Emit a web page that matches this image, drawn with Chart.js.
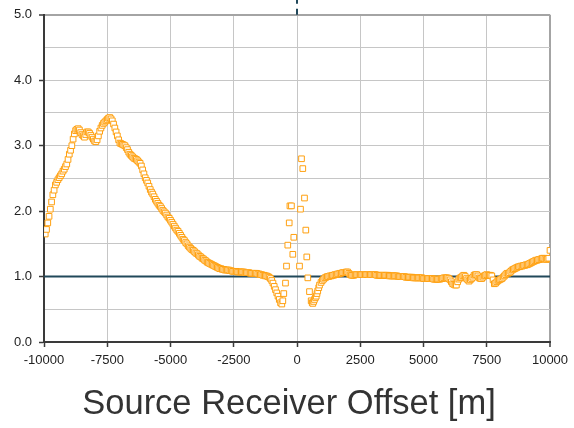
<!DOCTYPE html>
<html>
<head>
<meta charset="utf-8">
<script src="https://cdn.jsdelivr.net/npm/chart.js@4/dist/chart.umd.min.js"></script>
<style>
  html, body { margin: 0; padding: 0; background: #ffffff; }
  #wrap { width: 574px; height: 428px; }
</style>
</head>
<body>
<div id="wrap"><canvas id="c" width="574" height="428"></canvas></div>
<script>
// Negative offsets, far side
const westOffsets = [
  -10000, -9950, -9900, -9850, -9800, -9750, -9700, -9650, -9600, -9550,
  -9500, -9450, -9400, -9350, -9300, -9250, -9200, -9150, -9100, -9050,
  -9000, -8950, -8900, -8850, -8800, -8750, -8700, -8650, -8600, -8550,
  -8500, -8450, -8400, -8350, -8300, -8250, -8200, -8150, -8100, -8050,
  -8000, -7950, -7900, -7850, -7800, -7750, -7700, -7650, -7600, -7550,
  -7500, -7450, -7400, -7350, -7300, -7250, -7200, -7150, -7100, -7050,
  -7000, -6950, -6900, -6850, -6800, -6750, -6700, -6650, -6600, -6550,
  -6500, -6450, -6400, -6350, -6300, -6250, -6200, -6150, -6100, -6050,
  -6000, -5950, -5900, -5850, -5800, -5750, -5700, -5650, -5600, -5550,
  -5500, -5450, -5400, -5350, -5300, -5250, -5200, -5150, -5100, -5050,
  -5000, -4950, -4900, -4850, -4800, -4750, -4700, -4650, -4600, -4550,
  -4500, -4450, -4400, -4350, -4300, -4250, -4200, -4150, -4100, -4050,
  -4000
];
const westRatios = [
  1.70, 1.65, 1.72, 1.82, 1.92, 2.03, 2.14, 2.25, 2.32, 2.40,
  2.44, 2.48, 2.51, 2.54, 2.57, 2.61, 2.64, 2.68, 2.72, 2.79,
  2.87, 2.93, 3.00, 3.10, 3.18, 3.23, 3.25, 3.26, 3.24, 3.20,
  3.17, 3.15, 3.13, 3.17, 3.21, 3.21, 3.19, 3.16, 3.13, 3.10,
  3.07, 3.06, 3.09, 3.15, 3.22, 3.27, 3.31, 3.34, 3.36, 3.38,
  3.40, 3.42, 3.43, 3.41, 3.38, 3.33, 3.27, 3.21, 3.15, 3.09,
  3.04, 3.03, 3.02, 3.01, 3.00, 2.97, 2.94, 2.90, 2.87, 2.85,
  2.83, 2.81, 2.80, 2.79, 2.77, 2.75, 2.73, 2.69, 2.63, 2.57,
  2.51, 2.47, 2.43, 2.38, 2.33, 2.29, 2.26, 2.22, 2.18, 2.15,
  2.12, 2.09, 2.07, 2.04, 2.01, 1.99, 1.97, 1.94, 1.91, 1.89,
  1.86, 1.83, 1.80, 1.77, 1.74, 1.71, 1.69, 1.66, 1.63, 1.60,
  1.57, 1.55, 1.52, 1.50, 1.47, 1.45, 1.43, 1.41, 1.40, 1.38,
  1.36
];

// Negative offsets approaching the source
const nearWestOffsets = [
  -3950, -3900, -3850, -3800, -3750, -3700, -3650, -3600, -3550, -3500,
  -3450, -3400, -3350, -3300, -3250, -3200, -3150, -3100, -3050, -3000,
  -2950, -2900, -2850, -2800, -2750, -2700, -2650, -2600, -2550, -2500,
  -2450, -2400, -2350, -2300, -2250, -2200, -2150, -2100, -2050, -2000,
  -1950, -1900, -1850, -1800, -1750, -1700, -1650, -1600, -1550, -1500,
  -1450, -1400, -1350, -1300, -1250, -1200, -1150, -1100, -1050, -1000,
  -950, -900, -850, -800, -750, -700, -650, -600, -560
];
const nearWestRatios = [
  1.35, 1.33, 1.31, 1.30, 1.28, 1.27, 1.25, 1.24, 1.22, 1.21,
  1.20, 1.19, 1.18, 1.17, 1.16, 1.15, 1.14, 1.13, 1.12, 1.12,
  1.11, 1.11, 1.10, 1.10, 1.10, 1.10, 1.09, 1.09, 1.08, 1.08,
  1.08, 1.08, 1.07, 1.07, 1.07, 1.07, 1.07, 1.07, 1.06, 1.06,
  1.06, 1.06, 1.05, 1.05, 1.05, 1.05, 1.05, 1.05, 1.04, 1.04,
  1.03, 1.03, 1.02, 1.02, 1.01, 1.01, 1.00, 0.99, 0.97, 0.94,
  0.90, 0.85, 0.80, 0.75, 0.70, 0.65, 0.60, 0.58, 0.63
];

// Scattered samples around zero offset
const centreOffsets = [
  -522, -455, -415, -364, -308, -280, -220, -166, -126,
  99, 138, 178, 229, 296, 348, 387, 427, 494
];
const centreRatios = [
  0.74, 0.90, 1.16, 1.48, 1.82, 2.08, 2.08, 1.34, 1.60,
  1.16, 2.03, 2.80, 2.65, 2.20, 1.71, 1.30, 0.98, 0.77
];

// Positive offsets
const eastOffsets = [
  560, 600, 625, 660, 690, 730, 760, 790, 820, 860,
  890, 950, 1000, 1050, 1100, 1150,
  1200, 1250, 1300, 1350, 1400, 1450, 1500, 1550, 1600, 1650,
  1700, 1750, 1800, 1850, 1900, 1950, 2000, 2050, 2100, 2150,
  2200, 2250, 2300, 2350, 2400, 2450, 2500, 2550, 2600, 2650,
  2700, 2750, 2800, 2850, 2900, 2950, 3000, 3050, 3100, 3150,
  3200, 3250, 3300, 3350, 3400, 3450, 3500, 3550, 3600, 3650,
  3700, 3750, 3800, 3850, 3900, 3950, 4000, 4050, 4100, 4150,
  4200, 4250, 4300, 4350, 4400, 4450, 4500, 4550, 4600, 4650,
  4700, 4750, 4800, 4850, 4900, 4950, 5000, 5050, 5100, 5150,
  5200, 5250, 5300, 5350, 5400, 5450
];
const eastRatios = [
  0.63, 0.60, 0.59, 0.62, 0.65, 0.68, 0.70, 0.74, 0.78, 0.83,
  0.87, 0.91, 0.94, 0.96, 0.98, 0.99,
  1.00, 1.00, 1.01, 1.01, 1.02, 1.02, 1.03, 1.03, 1.04, 1.04,
  1.05, 1.05, 1.06, 1.06, 1.06, 1.07, 1.07, 1.05, 1.03, 1.02,
  1.02, 1.02, 1.03, 1.03, 1.03, 1.03, 1.03, 1.03, 1.03, 1.03,
  1.03, 1.03, 1.03, 1.03, 1.03, 1.03, 1.03, 1.03, 1.03, 1.02,
  1.02, 1.02, 1.02, 1.02, 1.02, 1.02, 1.02, 1.02, 1.02, 1.01,
  1.01, 1.01, 1.01, 1.01, 1.01, 1.01, 1.00, 1.00, 1.00, 1.00,
  1.00, 1.00, 0.99, 0.99, 0.99, 0.99, 0.99, 0.99, 0.98, 0.98,
  0.98, 0.98, 0.98, 0.98, 0.98, 0.98, 0.97, 0.97, 0.97, 0.97,
  0.97, 0.97, 0.97, 0.97, 0.96, 0.96
];

// Positive offsets, far side
const farEastOffsets = [
  5500, 5550, 5600, 5650, 5700, 5750, 5800, 5850, 5900, 5950,
  6000, 6050, 6100, 6150, 6200, 6250, 6300, 6350, 6400, 6450,
  6500, 6550, 6600, 6650, 6700, 6750, 6800, 6850, 6900, 6950,
  7000, 7050, 7100, 7150, 7200, 7250, 7300, 7350, 7400, 7450,
  7500, 7550, 7600, 7650, 7700, 7750, 7800, 7850, 7900, 7950,
  8000, 8050, 8100, 8150, 8200, 8250, 8300, 8350, 8400, 8450,
  8500, 8550, 8600, 8650, 8700, 8750, 8800, 8850, 8900, 8950,
  9000, 9050, 9100, 9150, 9200, 9250, 9300, 9350, 9400, 9450,
  9500, 9550, 9600, 9650, 9700, 9750, 9800, 9850, 9900, 9950,
  10000
];
const farEastRatios = [
  0.96, 0.96, 0.96, 0.96, 0.97, 0.97, 0.98, 0.98, 0.98, 0.98,
  0.97, 0.95, 0.92, 0.89, 0.88, 0.87, 0.87, 0.92, 0.96, 0.98,
  0.99, 1.01, 1.02, 1.00, 0.97, 0.95, 0.93, 0.95, 0.97, 0.99,
  1.02, 1.03, 1.03, 1.01, 0.98, 0.97, 0.97, 0.99, 1.01, 1.02,
  1.03, 1.02, 1.02, 1.02, 1.01, 0.95, 0.89, 0.90, 0.92, 0.94,
  0.95, 0.96, 0.97, 0.99, 1.01, 1.03, 1.05, 1.05, 1.06, 1.08,
  1.10, 1.11, 1.12, 1.13, 1.14, 1.15, 1.15, 1.16, 1.16, 1.17,
  1.17, 1.18, 1.18, 1.19, 1.20, 1.21, 1.22, 1.23, 1.24, 1.25,
  1.25, 1.26, 1.26, 1.27, 1.28, 1.28, 1.27, 1.26, 1.27, 1.28,
  1.40
];

// Axis ticks
const xTickValues = [-10000, -7500, -5000, -2500, 0, 2500, 5000, 7500, 10000];
const yGridValues = [0, 0.5, 1, 1.5, 2, 2.5, 3, 3.5, 4, 4.5, 5];
const yLabelValues = [0, 1, 2, 3, 4, 5];

// Unit reference level and zero-offset marker
const referenceLevel = 1.0;
const zeroOffset = 0;

const xTitle = 'Source Receiver Offset [m]';

const FONT = "'Liberation Sans', Arial, sans-serif";
const AXIS_DARK = '#3a3a3a';
const GRID = '#c6c6c6';
const FRAME = '#a4a4a4';
const REF = '#21485a';

const offsets = [].concat(westOffsets, nearWestOffsets, centreOffsets, eastOffsets, farEastOffsets);
const ratios = [].concat(westRatios, nearWestRatios, centreRatios, eastRatios, farEastRatios);
const points = offsets.map((x, i) => ({ x: x, y: ratios[i] }));

new Chart(document.getElementById('c'), {
  type: 'scatter',
  data: {
    datasets: [
      {
        data: points,
        pointStyle: 'rect',
        pointRadius: 4,
        pointHoverRadius: 4,
        borderWidth: 1,
        borderColor: '#ffa010',
        backgroundColor: '#ffffff',
        showLine: false,
        order: 0
      },
      {
        data: [{ x: -10000, y: referenceLevel }, { x: 10000, y: referenceLevel }],
        showLine: true,
        borderColor: REF,
        borderWidth: 2,
        pointRadius: 0,
        order: 2
      },
      {
        data: [{ x: zeroOffset, y: 5 }, { x: zeroOffset, y: 5.3 }],
        showLine: true,
        borderColor: REF,
        borderWidth: 2,
        borderDash: [6, 5],
        pointRadius: 0,
        clip: false,
        order: 3
      }
    ]
  },
  options: {
    responsive: false,
    animation: false,
    devicePixelRatio: 1,
    layout: { padding: { top: 14, right: 0, bottom: 0, left: 4 } },
    plugins: {
      legend: { display: false },
      tooltip: { enabled: false },
      title: {
        display: true,
        position: 'bottom',
        text: xTitle,
        color: '#333333',
        font: { family: FONT, size: 34.5, weight: 'normal', lineHeight: 1.2 },
        padding: { top: 0, bottom: 3 }
      }
    },
    scales: {
      x: {
        type: 'linear',
        min: -10000,
        max: 10000,
        afterBuildTicks: (scale) => { scale.ticks = xTickValues.map(v => ({ value: v })); },
        afterFit: (scale) => { scale.height = 41.6; scale.paddingRight = 24; },
        ticks: {
          autoSkip: false,
          maxRotation: 0,
          padding: 6,
          color: '#222222',
          font: { family: FONT, size: 13 },
          callback: (v) => String(v)
        },
        grid: {
          drawTicks: true,
          tickLength: 5,
          tickWidth: 1.5,
          tickColor: AXIS_DARK,
          color: (ctx) => {
            const v = ctx.tick ? ctx.tick.value : null;
            if (v === -10000) return 'rgba(0,0,0,0)';
            if (v === 10000) return FRAME;
            return GRID;
          },
          lineWidth: (ctx) => (ctx.tick && ctx.tick.value === 10000 ? 2 : 1)
        },
        border: { display: true, color: AXIS_DARK, width: 2 }
      },
      y: {
        type: 'linear',
        min: 0,
        max: 5,
        afterBuildTicks: (scale) => { scale.ticks = yGridValues.map(v => ({ value: v })); },
        afterFit: (scale) => { scale.width = 40; },
        ticks: {
          autoSkip: false,
          padding: 7,
          color: '#222222',
          font: { family: FONT, size: 13 },
          callback: (v) => (yLabelValues.includes(v) ? v.toFixed(1) : '')
        },
        grid: {
          drawTicks: true,
          tickLength: 5,
          tickWidth: 1.5,
          tickColor: (ctx) => (ctx.tick && yLabelValues.includes(ctx.tick.value) ? AXIS_DARK : 'rgba(0,0,0,0)'),
          color: (ctx) => {
            const v = ctx.tick ? ctx.tick.value : null;
            if (v === 0) return 'rgba(0,0,0,0)';
            if (v === 5) return FRAME;
            return GRID;
          },
          lineWidth: (ctx) => (ctx.tick && ctx.tick.value === 5 ? 2 : 1)
        },
        border: { display: true, color: AXIS_DARK, width: 2 }
      }
    }
  }
});
</script>
</body>
</html>
